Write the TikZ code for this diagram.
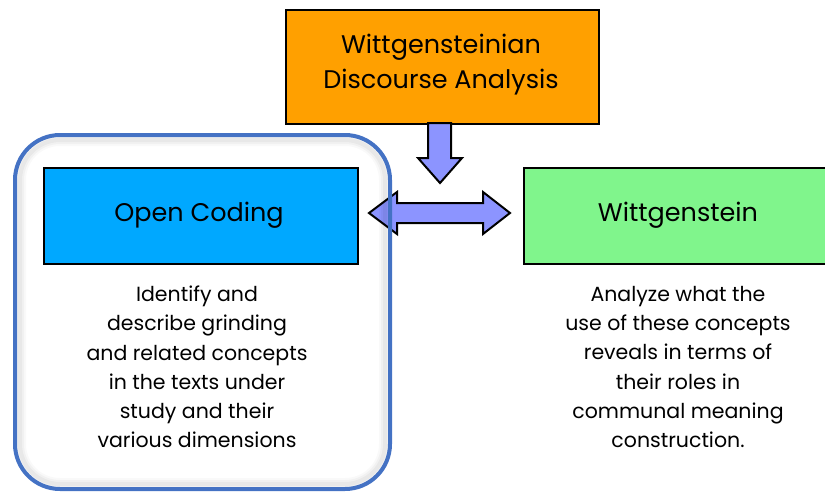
\documentclass[tikz,border=0pt]{standalone}
\usepackage{fontspec}
\setmainfont{Poppins}
\definecolor{orangefill}{RGB}{255,160,0}
\definecolor{bluefill}{RGB}{0,168,255}
\definecolor{greenfill}{RGB}{128,245,140}
\definecolor{arrowfill}{RGB}{140,148,255}
\definecolor{groupline}{RGB}{68,114,196}
\tikzset{
  box/.style={draw=black, line width=2pt, inner sep=0pt, anchor=north west},
  title/.style={font=\fontsize{25.5}{35}\selectfont, align=center, text=black},
  body/.style={font=\fontsize{20.5}{29.3}\selectfont, align=center, text=black},
  blockarrow/.style={draw=black, line width=2pt, fill=arrowfill, line join=miter},
}
\begin{document}
\begin{tikzpicture}[x=1pt,y=-1pt]
\useasboundingbox (0,0) rectangle (825,491);
% boxes
\node[box, fill=orangefill, minimum width=313pt, minimum height=114pt] (wda) at (285,9) {};
\node[title] (wdat) at (441,65) {Wittgensteinian\\Discourse Analysis};
\node[box, fill=bluefill, minimum width=314pt, minimum height=96pt] (oc) at (43,167) {};
\node[title] (oct) at (199,215) {Open Coding};
\node[box, fill=greenfill, minimum width=305pt, minimum height=96pt] (wg) at (523,167) {};
\node[title] (wgt) at (678,215) {Wittgenstein};
% body texts
\node[body] (octext) at (197,367) {Identify and\\describe grinding\\and related concepts\\in the texts under\\study and their\\various dimensions};
\node[body] (wgtext) at (678,367) {Analyze what the\\use of these concepts\\reveals in terms of\\their roles in\\communal meaning\\construction.};
% block arrows
\draw[blockarrow] (428,123) -- (451,123) -- (451,158) -- (462,158) -- (440,183) -- (418,158) -- (428,158) -- cycle;
\draw[blockarrow] (369,213) -- (397,192) -- (397,203) -- (483,203) -- (483,192) -- (510,213) -- (483,234) -- (483,223) -- (397,223) -- (397,234) -- cycle;
% group outline with soft inner shadow
\foreach \w/\o in {12/0.025,8/0.03,4/0.04}{
  \draw[black, opacity=\o, line width=\w pt, rounded corners=40pt] (20,140) rectangle (385,484);
}
\draw[groupline, line width=4pt, rounded corners=45pt] (15,135) rectangle (390,489);
\end{tikzpicture}
\end{document}
